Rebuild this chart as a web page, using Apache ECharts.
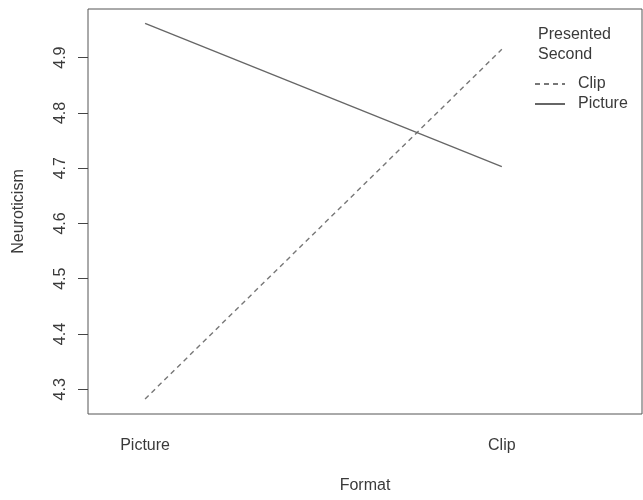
<!DOCTYPE html>
<html><head><meta charset="utf-8">
<script src="https://cdn.jsdelivr.net/npm/echarts@6/dist/echarts.min.js"></script>
<style>html,body{margin:0;padding:0;background:#fff}#c{width:643px;height:500px}</style>
</head><body><div id="c"></div>
<script>
const categories = ['Picture', 'Clip'];
const seriesNames = ['Clip', 'Picture'];
const clipValues = [4.2825, 4.915];
const pictureValues = [4.962, 4.703];
const yTicks = [4.3, 4.4, 4.5, 4.6, 4.7, 4.8, 4.9];

const txt = '#3a3a3a';
const font = 'Liberation Sans, Arial, Helvetica, sans-serif';
const chart = echarts.init(document.getElementById('c'));
const xPos = categories.map((c, i) => i + 1);
chart.setOption({
  animation: false,
  title: {
    text: 'Presented\nSecond', left: 533, top: 20,
    textStyle: {color: txt, fontFamily: font, fontSize: 16, fontWeight: 'normal', lineHeight: 20}
  },
  legend: {
    orient: 'vertical', left: 534, top: 76, itemWidth: 30, itemHeight: 14, itemGap: 4,
    padding: 0,
    data: seriesNames,
    itemStyle: {opacity: 0},
    textStyle: {color: txt, fontFamily: font, fontSize: 16, padding: [0,0,0,8]}
  },
  grid: {left: 88, right: 1, top: 9, bottom: 86, show: true, borderColor: '#555', borderWidth: 1,
    containLabel: false, outerBoundsMode: 'none'},
  xAxis: {
    type: 'value', min: 0.84, max: 2.393,
    name: 'Format', nameLocation: 'middle', nameGap: 64,
    nameTextStyle: {color: txt, fontFamily: font, fontSize: 16},
    axisLine: {show: false}, axisTick: {show: false}, splitLine: {show: false},
    axisLabel: {customValues: xPos, formatter: v => categories[Math.round(v) - 1] || '',
      color: txt, fontFamily: font, fontSize: 16, margin: 24}
  },
  yAxis: {
    type: 'value', min: 4.2553, max: 4.988,
    name: 'Neuroticism', nameLocation: 'middle', nameGap: 61,
    nameTextStyle: {color: txt, fontFamily: font, fontSize: 16},
    axisLine: {show: false}, splitLine: {show: false},
    axisTick: {show: true, customValues: yTicks, length: 10, lineStyle: {color: '#444'}},
    axisLabel: {customValues: yTicks, rotate: 90, formatter: v => v.toFixed(1),
      color: txt, fontFamily: font, fontSize: 16, margin: 19}
  },
  series: [
    {name: seriesNames[0], type: 'line', symbol: 'none',
     data: xPos.map((x, i) => [x, clipValues[i]]),
     lineStyle: {color: '#777', width: 1.4, type: [5, 4]}, itemStyle: {color: '#777'}},
    {name: seriesNames[1], type: 'line', symbol: 'none',
     data: xPos.map((x, i) => [x, pictureValues[i]]),
     lineStyle: {color: '#666', width: 1.3, type: 'solid'}, itemStyle: {color: '#666'}}
  ]
});
</script></body></html>
